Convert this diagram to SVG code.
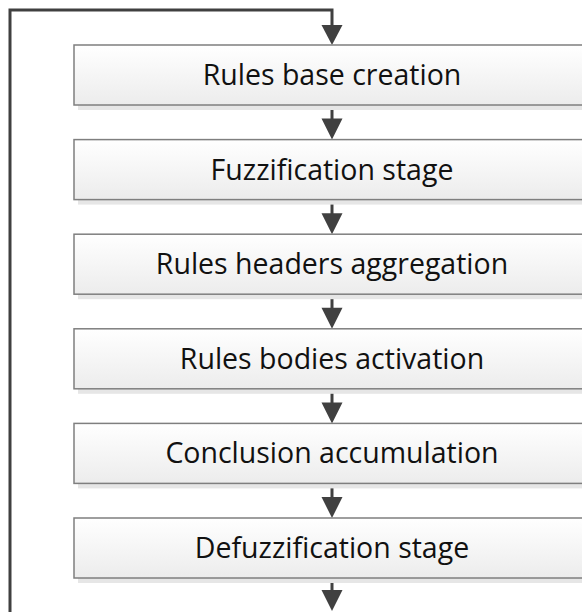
<svg xmlns="http://www.w3.org/2000/svg" width="582" height="612" viewBox="0 0 582 612">
<defs>
<linearGradient id="boxfill" x1="0" y1="0" x2="0" y2="1">
<stop offset="0" stop-color="#ffffff"/>
<stop offset="1" stop-color="#ececec"/>
</linearGradient>
</defs>
<style>
.shadow{fill:#e6e6e6;}
.box{fill:url(#boxfill);stroke:#7f7f7f;stroke-width:1.5;}
.label{font-family:"Open Sans","Noto Sans",sans-serif;font-size:28.5px;fill:#111111;text-anchor:middle;}
.line{fill:none;stroke:#404040;stroke-width:3;}
.head{fill:#404040;}
</style>
<rect width="582" height="612" fill="#ffffff"/>
<g id="connectors">
<path class="line" d="M10,612 V10 H332 V26"/>
<polygon class="head" points="321.5,25 342.5,25 332,45"/>
<path class="line" d="M332,105 V120"/>
<polygon class="head" points="321.5,118.6 342.5,118.6 332,139.6"/>
<path class="line" d="M332,199.6 V215"/>
<polygon class="head" points="321.5,213.2 342.5,213.2 332,234.2"/>
<path class="line" d="M332,294.2 V310"/>
<polygon class="head" points="321.5,307.8 342.5,307.8 332,328.8"/>
<path class="line" d="M332,388.8 V404"/>
<polygon class="head" points="321.5,402.4 342.5,402.4 332,423.4"/>
<path class="line" d="M332,483.4 V499"/>
<polygon class="head" points="321.5,497 342.5,497 332,518"/>
<path class="line" d="M332,578 V592"/>
<polygon class="head" points="321.5,590 342.5,590 332,611"/>
</g>
<g id="node1">
<rect class="shadow" x="78" y="50" width="520" height="60"/>
<rect class="box" x="74" y="45" width="520" height="60"/>
<text class="label" x="332" y="85">Rules base creation</text>
</g>
<g id="node2">
<rect class="shadow" x="78" y="144.6" width="520" height="60"/>
<rect class="box" x="74" y="139.6" width="520" height="60"/>
<text class="label" x="332" y="179.6">Fuzzification stage</text>
</g>
<g id="node3">
<rect class="shadow" x="78" y="239.2" width="520" height="60"/>
<rect class="box" x="74" y="234.2" width="520" height="60"/>
<text class="label" x="332" y="274.2">Rules headers aggregation</text>
</g>
<g id="node4">
<rect class="shadow" x="78" y="333.8" width="520" height="60"/>
<rect class="box" x="74" y="328.8" width="520" height="60"/>
<text class="label" x="332" y="368.8">Rules bodies activation</text>
</g>
<g id="node5">
<rect class="shadow" x="78" y="428.4" width="520" height="60"/>
<rect class="box" x="74" y="423.4" width="520" height="60"/>
<text class="label" x="332" y="463.4">Conclusion accumulation</text>
</g>
<g id="node6">
<rect class="shadow" x="78" y="523" width="520" height="60"/>
<rect class="box" x="74" y="518" width="520" height="60"/>
<text class="label" x="332" y="558">Defuzzification stage</text>
</g>
</svg>
